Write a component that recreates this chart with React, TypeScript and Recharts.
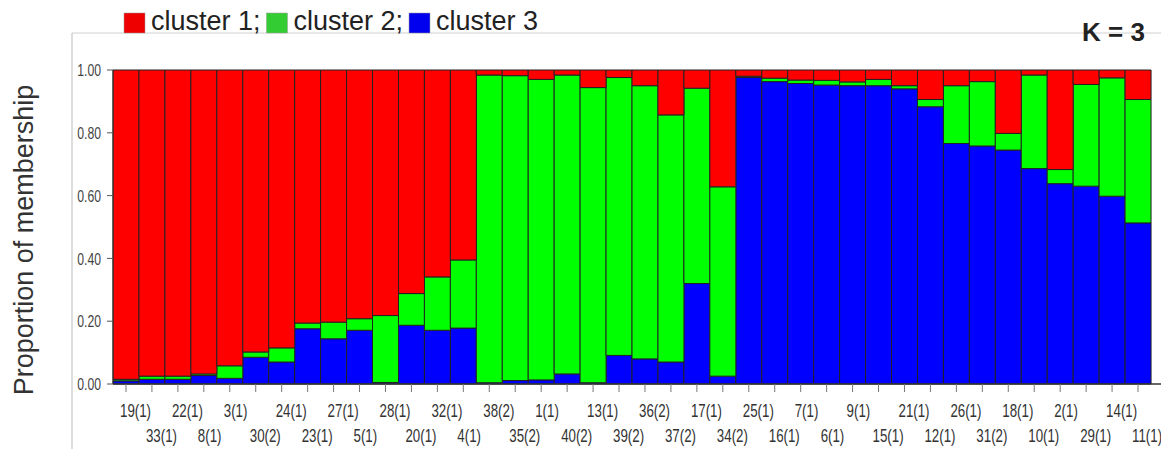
import React from 'react';
import { BarChart, Bar, XAxis, YAxis } from 'recharts';

const samples = [
  '19(1)', '33(1)', '22(1)', '8(1)', '3(1)', '30(2)', '24(1)', '23(1)', '27(1)', '5(1)',
  '28(1)', '20(1)', '32(1)', '4(1)', '38(2)', '35(2)', '1(1)', '40(2)', '13(1)', '39(2)',
  '36(2)', '37(2)', '17(1)', '34(2)', '25(1)', '16(1)', '7(1)', '6(1)', '9(1)', '15(1)',
  '21(1)', '12(1)', '26(1)', '31(2)', '18(1)', '10(1)', '2(1)', '29(1)', '14(1)', '11(1)',
];

// cluster 3 (blue, bottom)
const cluster3 = [
  0.010, 0.015, 0.015, 0.027, 0.018, 0.085, 0.070, 0.176, 0.144, 0.171,
  0.005, 0.187, 0.171, 0.178, 0.004, 0.011, 0.013, 0.032, 0.004, 0.091,
  0.080, 0.070, 0.320, 0.025, 0.976, 0.963, 0.957, 0.952, 0.950, 0.950,
  0.940, 0.883, 0.766, 0.758, 0.745, 0.686, 0.638, 0.630, 0.598, 0.513,
];
// cluster 2 (green, middle)
const cluster2 = [
  0.005, 0.010, 0.010, 0.005, 0.040, 0.017, 0.045, 0.018, 0.053, 0.037,
  0.213, 0.101, 0.170, 0.217, 0.980, 0.971, 0.957, 0.952, 0.940, 0.885,
  0.870, 0.787, 0.622, 0.603, 0.004, 0.011, 0.011, 0.015, 0.012, 0.020,
  0.010, 0.023, 0.184, 0.205, 0.053, 0.298, 0.045, 0.324, 0.377, 0.393,
];
// cluster 1 (red, top)
const cluster1 = [
  0.985, 0.975, 0.975, 0.968, 0.942, 0.898, 0.885, 0.806, 0.803, 0.792,
  0.782, 0.712, 0.659, 0.605, 0.016, 0.018, 0.030, 0.016, 0.056, 0.024,
  0.050, 0.143, 0.058, 0.372, 0.020, 0.026, 0.032, 0.033, 0.038, 0.030,
  0.050, 0.094, 0.050, 0.037, 0.202, 0.016, 0.317, 0.046, 0.025, 0.094,
];

const seriesNames = ['cluster 1', 'cluster 2', 'cluster 3'];
const legendColors = ['#ee0000', '#33cc33', '#0000ee'];
const barColors = { c1: '#ff0000', c2: '#00ff00', c3: '#0000ff' };
const yTicks = [0, 0.2, 0.4, 0.6, 0.8, 1];
const yLabel = 'Proportion of membership';
const kLabel = 'K = 3';

const data = samples.map((s, i) => ({
  name: s,
  c1: cluster1[i],
  c2: cluster2[i],
  c3: cluster3[i],
}));

const FONT = '"Liberation Sans", Arial, sans-serif';

const XTick = (props: any) => {
  const { x, y, payload, index } = props;
  const row = index % 2;
  const ty = y + (row === 0 ? 23 : 48);
  return (
    <text
      transform={`translate(${x - 6},${ty}) scale(0.74,1)`}
      x={0}
      y={0}
      textAnchor="start"
      fontSize={18}
      fontFamily={FONT}
      fill="#333"
    >
      {payload.value}
    </text>
  );
};

const YTick = (props: any) => {
  const { x, y, payload } = props;
  return (
    <text
      transform={`translate(${x - 4},${y}) scale(0.72,1)`}
      x={0}
      y={0}
      dy="0.36em"
      textAnchor="end"
      fontSize={17}
      fontFamily={FONT}
      fill="#444"
    >
      {Number(payload.value).toFixed(2)}
    </text>
  );
};

export default function App() {
  return (
    <div style={{ position: 'absolute', left: 0, top: 0, width: 1161, height: 449, background: '#fff' }}>
      <BarChart
        width={1161}
        height={449}
        data={data}
        margin={{ top: 70, right: 10, left: 0, bottom: 0 }}
        barCategoryGap={0}
        barGap={0}
      >
        <XAxis
          dataKey="name"
          interval={0}
          height={65}
          tick={<XTick />}
          tickSize={8}
          tickLine={{ stroke: '#777' }}
          axisLine={{ stroke: '#333', strokeWidth: 1.5 }}
        />
        <YAxis
          width={113}
          domain={[0, 1]}
          ticks={yTicks}
          tick={<YTick />}
          tickSize={6}
          tickLine={{ stroke: '#555' }}
          axisLine={{ stroke: '#333' }}
          interval={0}
        />
        <Bar dataKey="c3" stackId="a" fill={barColors.c3} stroke="#222" strokeWidth={1} isAnimationActive={false} />
        <Bar dataKey="c2" stackId="a" fill={barColors.c2} stroke="#222" strokeWidth={1} isAnimationActive={false} />
        <Bar dataKey="c1" stackId="a" fill={barColors.c1} stroke="#222" strokeWidth={1} isAnimationActive={false} />
      </BarChart>
      <svg
        width={1161}
        height={449}
        style={{ position: 'absolute', left: 0, top: 0, pointerEvents: 'none' }}
      >
        <line x1={72} y1={33} x2={1161} y2={33} stroke="#d0d0d0" strokeWidth={1} />
        <line x1={72} y1={33} x2={72} y2={449} stroke="#bbbbbb" strokeWidth={1} />
        <line x1={1151} y1={384} x2={1161} y2={384} stroke="#333" strokeWidth={1.5} />
        {seriesNames.map((n, i) => {
          const sx = 124 + i * 142.5;
          return (
            <g key={n}>
              <rect x={sx} y={13} width={21} height={20} fill={legendColors[i]} stroke="#999" strokeWidth={0.5} />
              <text x={sx + 27} y={30} fontSize={27} fontFamily={FONT} fill="#222">
                {n + (i < seriesNames.length - 1 ? ';' : '')}
              </text>
            </g>
          );
        })}
        <text x={1082} y={41} fontSize={26} fontWeight="bold" fontFamily={FONT} fill="#222">
          {kLabel}
        </text>
        <text
          x={33}
          y={240}
          transform="rotate(-90, 33, 240)"
          textAnchor="middle"
          fontSize={27}
          fontFamily={FONT}
          fill="#333"
        >
          {yLabel}
        </text>
      </svg>
    </div>
  );
}
